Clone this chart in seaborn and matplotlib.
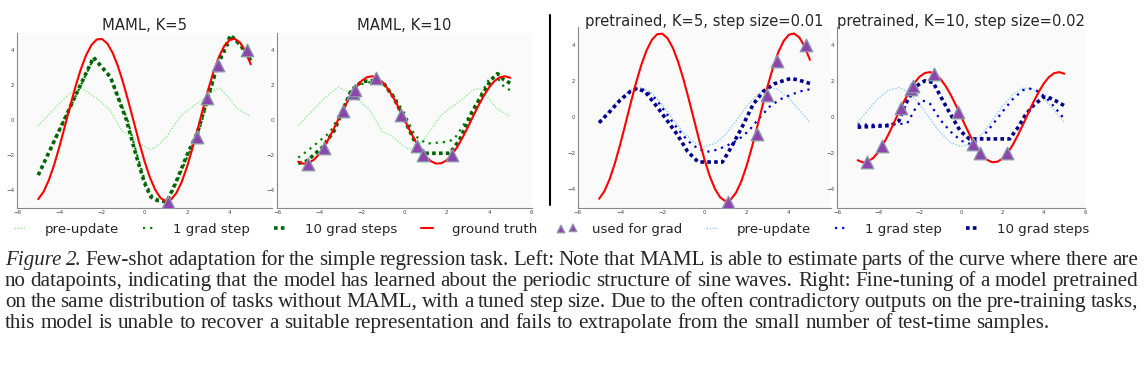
import numpy as np
import matplotlib
matplotlib.use("Agg")
import matplotlib.pyplot as plt
import seaborn as sns
from matplotlib.lines import Line2D

# -------------------------------
# DATA
# -------------------------------
# ground truth sine for the K=5 task and the K=10 task
gt_x = np.linspace(-5, 5, 41)
gt5_y = [-4.52, -4.10, -3.43, -2.55, -1.51, -0.37, 0.79, 1.90, 2.89, 3.70, 4.28,
         4.60, 4.63, 4.37, 3.84, 3.07, 2.11, 1.02, -0.13, -1.28, -2.35, -3.27,
         -3.98, -4.45, -4.65, -4.55, -4.17, -3.54, -2.68, -1.65, -0.53, 0.63,
         1.75, 2.76, 3.60, 4.22, 4.57, 4.64, 4.42, 3.92, 3.18]
gt10_y = [-2.38, -2.50, -2.45, -2.26, -1.93, -1.47, -0.93, -0.32, 0.30, 0.90, 1.45,
          1.91, 2.25, 2.45, 2.50, 2.39, 2.13, 1.74, 1.25, 0.67, 0.05, -0.57,
          -1.15, -1.66, -2.07, -2.35, -2.49, -2.47, -2.30, -1.98, -1.54, -1.00,
          -0.41, 0.22, 0.83, 1.38, 1.86, 2.22, 2.44, 2.50, 2.41]

# points used for the gradient
pts5_x = [1.1, 2.48, 2.96, 3.44, 4.8]
pts5_y = [-4.67, -0.95, 1.23, 3.12, 4.0]
pts10_x = [-4.55, -3.8, -2.9, -2.43, -2.33, -1.32, -0.15, 0.6, 0.9, 2.23]
pts10_y = [-2.5, -1.6, 0.54, 1.56, 1.73, 2.38, 0.3, -1.5, -2.0, -2.0]

# MAML, pre-update (same in both MAML panels)
maml_pre_x = [-5.0, -4.3, -3.6, -3.1, -2.8, -2.15, -1.65, -1.35, -1.05, -0.55, -0.1, 0.25,
              0.55, 1.05, 1.35, 1.75, 2.3, 2.8, 3.25, 3.55, 4.05, 4.35, 5.0]
maml_pre_y = [-0.33, 0.57, 1.43, 1.87, 1.7, 1.14, 0.6, 0.0, -0.65, -0.95, -1.43, -1.7,
              -1.52, -0.95, -0.38, 0.29, 0.8, 1.24, 1.71, 1.82, 1.14, 0.67, 0.19]

# MAML K=5
maml5_1_x = [-5, -2.4, -1.6, -0.8, -0.35, 0.05, 0.4, 0.7, 1.1, 1.55, 2.05, 2.55, 3.05,
             3.5, 4.1, 4.5, 5.0]
maml5_1_y = [-3.1, 3.5, 2.4, 0.0, -2.0, -3.6, -4.45, -4.55, -4.6, -3.45, -2.0, -0.7,
             1.4, 3.2, 4.7, 4.35, 3.65]
maml5_10_x = [-5, -2.4, -1.6, -0.85, -0.4, 0.0, 0.3, 0.6, 1.05, 1.5, 2.0, 2.5, 3.0,
              3.45, 4.05, 4.5, 5.0]
maml5_10_y = [-3.15, 3.58, 2.45, 0.0, -2.0, -3.6, -4.4, -4.6, -4.67, -3.5, -2.0, -0.7,
              1.4, 3.2, 4.85, 4.3, 3.4]

# MAML K=10
maml10_1_x = [-5, -4.5, -4.0, -3.5, -3.0, -2.5, -2.0, -1.5, -1.0, -0.5, 0.0, 0.5, 1.05,
              2.0, 2.35, 2.95, 3.5, 4.05, 4.4, 4.7, 5.0]
maml10_1_y = [-2.15, -1.7, -1.2, -0.7, 0.4, 1.7, 2.05, 2.2, 2.05, 1.4, 0.4, -0.9, -1.35,
              -1.25, -1.1, 0.0, 1.2, 2.45, 2.4, 1.9, 1.7]
maml10_10_x = [-5, -4.6, -3.85, -3.3, -2.9, -2.5, -2.0, -1.5, -1.0, -0.5, 0.0, 0.6, 0.95,
               2.15, 2.6, 3.2, 3.7, 4.1, 4.4, 4.7, 5.0]
maml10_10_y = [-2.48, -2.35, -1.55, -0.6, 0.55, 1.7, 2.2, 2.25, 2.15, 1.3, 0.05, -1.5,
               -1.9, -1.9, -1.15, 0.45, 1.5, 2.3, 2.65, 2.3, 2.1]

# pretrained, pre-update (same in both pretrained panels)
pre_pre_x = np.linspace(-5, 5, 21)
pre_pre_y = [-0.3, 0.4, 1.05, 1.5, 1.65, 1.35, 0.7, -0.1, -0.85, -1.4, -1.62, -1.45,
             -0.95, -0.2, 0.6, 1.25, 1.62, 1.55, 1.05, 0.4, -0.28]

# pretrained K=5
pre5_1_x = [-5, -4.5, -4.0, -3.5, -3.2, -2.8, -2.3, -1.8, -1.3, -0.8, -0.3, 0.1, 0.6,
            1.1, 1.6, 2.1, 2.6, 3.1, 3.6, 4.1, 4.6, 5.0]
pre5_1_y = [-0.3, 0.3, 0.95, 1.45, 1.6, 1.5, 1.0, 0.2, -0.6, -1.3, -1.75, -1.92, -1.8,
            -1.55, -1.25, -0.75, -0.05, 0.6, 1.0, 1.25, 1.45, 1.55]
pre5_10_x = [-5, -4.5, -4.0, -3.5, -3.2, -2.8, -2.2, -1.7, -1.3, -0.8, -0.3, 0.85, 1.3,
             1.8, 2.3, 2.8, 3.3, 3.8, 4.1, 4.5, 5.0]
pre5_10_y = [-0.3, 0.3, 0.95, 1.45, 1.6, 1.4, 0.5, -0.3, -0.95, -1.9, -2.48, -2.48, -1.6,
             -0.5, 0.7, 1.45, 1.85, 2.05, 2.15, 2.05, 1.87]

# pretrained K=10
pre10_1_x = [-5, -4.0, -3.0, -2.6, -2.2, -1.9, -1.5, -1.0, -0.5, 0.0, 0.5, 1.0, 1.5,
             2.0, 2.5, 3.0, 3.3, 3.7, 4.1, 4.5, 5.0]
pre10_1_y = [-0.4, -0.42, -0.38, -0.33, 0.5, 0.95, 0.75, -0.15, -0.8, -1.3, -1.5, -1.15,
             -0.45, 0.3, 1.0, 1.5, 1.6, 1.45, 1.1, 0.6, -0.1]
pre10_10_x = [-5, -3.4, -3.0, -2.7, -2.2, -1.75, -1.35, -0.7, -0.05, 0.4, 2.35, 2.8, 3.1,
              3.5, 4.0, 4.2, 4.6, 5.0]
pre10_10_y = [-0.55, -0.46, -0.2, 0.7, 1.7, 2.02, 1.93, 0.55, -0.74, -1.2, -1.2, -0.5,
              0.1, 0.65, 1.12, 1.12, 0.9, 0.64]

titles = ["MAML, K=5", "MAML, K=10",
          "pretrained, K=5, step size=0.01", "pretrained, K=10, step size=0.02"]

caption_lines = [
    "Few-shot adaptation for the simple regression task. Left: Note that MAML is able to estimate parts of the curve where there are",
    "no datapoints, indicating that the model has learned about the periodic structure of sine waves. Right: Fine-tuning of a model pretrained",
    "on the same distribution of tasks without MAML, with a tuned step size. Due to the often contradictory outputs on the pre-training tasks,",
    "this model is unable to recover a suitable representation and fails to extrapolate from the small number of test-time samples.",
]

# -------------------------------
# STYLE
# -------------------------------
sns.set_style("white", {"axes.facecolor": "#fafafa"})
plt.rcParams["font.family"] = ["DejaVu Sans"]

W, H = 1147, 370
fig = plt.figure(figsize=(W / 100, H / 100), dpi=100)

greens = ["lightgreen", "green", "darkgreen"]
blues = ["lightskyblue", "mediumblue", "darkblue"]
tri_color = "#8e44ad"
tri_edge = "#8a96aa"

# axes boxes in pixels: left, top, right, bottom
boxes = [(17, 32.5, 272, 207.5), (277, 32.5, 531.5, 207.5),
         (578, 27, 831, 207.5), (837, 27, 1085, 207.5)]
axes = []
for l, t, r, b in boxes:
    axes.append(fig.add_axes([l / W, 1 - b / H, (r - l) / W, (b - t) / H]))

panels = [
    (maml_pre_x, maml_pre_y, maml5_1_x, maml5_1_y, maml5_10_x, maml5_10_y, gt5_y, pts5_x, pts5_y, greens),
    (maml_pre_x, maml_pre_y, maml10_1_x, maml10_1_y, maml10_10_x, maml10_10_y, gt10_y, pts10_x, pts10_y, greens),
    (pre_pre_x, pre_pre_y, pre5_1_x, pre5_1_y, pre5_10_x, pre5_10_y, gt5_y, pts5_x, pts5_y, blues),
    (pre_pre_x, pre_pre_y, pre10_1_x, pre10_1_y, pre10_10_x, pre10_10_y, gt10_y, pts10_x, pts10_y, blues),
]

for i, (ax, p) in enumerate(zip(axes, panels)):
    px, py, x1, y1, x10, y10, gty, tx, ty, cols = p
    sns.lineplot(x=px, y=py, ax=ax, color=cols[0], lw=1.0, linestyle=(0, (1, 1.2)),
                 label="pre-update", legend=False, sort=False)
    sns.lineplot(x=x1, y=y1, ax=ax, color=cols[1], lw=1.6, linestyle=(0, (1, 2.2)),
                 label="1 grad step", legend=False, sort=False)
    sns.lineplot(x=x10, y=y10, ax=ax, color=cols[2], lw=2.6, linestyle=(0, (1, 0.9)),
                 label="10 grad steps", legend=False, sort=False)
    sns.lineplot(x=gt_x, y=gty, ax=ax, color="red", lw=1.5,
                 label="ground truth", legend=False, sort=False)
    sns.scatterplot(x=tx, y=ty, ax=ax, marker="^", s=80, color=tri_color,
                    edgecolor=tri_edge, linewidth=1.0, zorder=5,
                    label="used for grad", legend=False)

    ax.set_xlim(-6, 6)
    ax.set_ylim(-5, 5)
    ax.set_xticks(range(-6, 7 if i % 2 == 1 else 5, 2))
    ax.set_yticks([-4, -2, 0, 2, 4])
    ax.tick_params(direction="in", length=2.5, width=0.6, color="#777777",
                   labelsize=4, labelcolor="#444444", pad=2)
    for side in ["top", "right"]:
        ax.spines[side].set_visible(False)
    for side in ["left", "bottom"]:
        ax.spines[side].set_color("#888888")
        ax.spines[side].set_linewidth(0.8)
    ax.set_title(titles[i], fontsize=10.6, pad=2 if i < 2 else 1)

# -------------------------------
# LEGEND
# -------------------------------
h1, l1 = axes[0].get_legend_handles_labels()
h3, l3 = axes[2].get_legend_handles_labels()
handles = h1 + h3[:3]
labels = l1 + l3[:3]
fig.legend(handles, labels, loc="center", bbox_to_anchor=(549.5 / W, 1 - 229 / H),
           ncol=8, frameon=False, fontsize=9.6, handlelength=1.5, handletextpad=1.1,
           columnspacing=1.5, scatterpoints=2, numpoints=2, markerscale=0.6,
           borderpad=0, borderaxespad=0)

# separator between the MAML and pretrained halves
fig.add_artist(Line2D([550 / W, 550 / W], [1 - 15 / H, 1 - 205 / H],
                      transform=fig.transFigure, color="black", lw=1.5))

# -------------------------------
# CAPTION (justified)
# -------------------------------
renderer = fig.canvas.get_renderer()
serif = "Liberation Serif"
x_left, x_right = 5, 1138

probe = fig.text(0, 0, caption_lines[-1], fontsize=10, family=serif)
cap_size = 10 * 1040 / probe.get_window_extent(renderer=renderer).width
probe.remove()

baselines = [265, 286, 307, 328]
space = 0.25 * cap_size * 100 / 72

for k, line in enumerate(caption_lines):
    words = [(w, "normal") for w in line.split(" ")]
    if k == 0:
        words = [("Figure", "italic"), ("2.", "italic")] + words
    texts = [fig.text(0, 1 - baselines[k] / H, w, fontsize=cap_size, family=serif,
                      style=s, va="baseline") for w, s in words]
    widths = [t.get_window_extent(renderer=renderer).width for t in texts]
    if k < len(caption_lines) - 1:
        gap = (x_right - x_left - sum(widths)) / (len(texts) - 1)
    else:
        gap = space
    x = x_left
    for t, w in zip(texts, widths):
        t.set_x(x / W)
        x += w + gap

fig.savefig("out.png", dpi=100)
